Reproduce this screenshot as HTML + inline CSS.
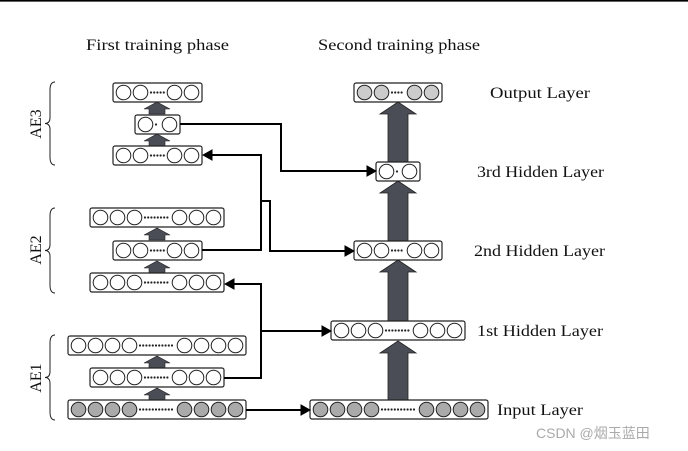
<!DOCTYPE html>
<html><head><meta charset="utf-8"><style>
html,body{margin:0;padding:0;background:#fff;}
svg{display:block;}
text{font-family:"Liberation Serif",serif;font-size:16px;fill:#111;}
</style></head><body>
<svg id="s" width="688" height="451" viewBox="0 0 688 451" xmlns="http://www.w3.org/2000/svg">
<rect x="0" y="0" width="688" height="451" fill="#fff"/>
<line x1="0" y1="0.8" x2="688" y2="0.8" stroke="#000" stroke-width="1.6"/>
<text x="86" y="50" textLength="143" lengthAdjust="spacingAndGlyphs">First training phase</text>
<text x="318" y="50" textLength="162" lengthAdjust="spacingAndGlyphs">Second training phase</text>
<text x="490" y="98" textLength="100" lengthAdjust="spacingAndGlyphs">Output Layer</text>
<text x="477" y="177" textLength="127" lengthAdjust="spacingAndGlyphs">3rd Hidden Layer</text>
<text x="474" y="256" textLength="131" lengthAdjust="spacingAndGlyphs">2nd Hidden Layer</text>
<text x="477" y="336" textLength="126" lengthAdjust="spacingAndGlyphs">1st Hidden Layer</text>
<text x="497" y="415" textLength="86" lengthAdjust="spacingAndGlyphs">Input Layer</text>
<text transform="translate(41,124) rotate(-90)" text-anchor="middle">AE3</text>
<text transform="translate(41,250) rotate(-90)" text-anchor="middle">AE2</text>
<text transform="translate(41,378) rotate(-90)" text-anchor="middle">AE1</text>
<text x="536" y="438" style="font-family:'Liberation Sans','Noto Sans CJK SC',sans-serif;font-size:14px;fill:#aaa">CSDN @烟玉蓝田</text>
<g id="g" fill="none" stroke="#000"></g>
</svg>
<script>
var g=document.getElementById('g'),h='';
function box(x,y,n,w,fill){
 var hgt=19;h+='<rect x="'+x+'" y="'+y+'" width="'+w+'" height="'+hgt+'" rx="2" fill="#fff" stroke="#222" stroke-width="1.2"/>';
 var cy=y+hgt/2;
 for(var i=0;i<n;i++){var cx=x+2+8.5+17*i;h+='<circle cx="'+cx+'" cy="'+cy+'" r="7.3" fill="'+fill+'" stroke="#222" stroke-width="1"/>';}
 for(var i=0;i<n;i++){var cx=x+w-2-8.5-17*i;h+='<circle cx="'+cx+'" cy="'+cy+'" r="7.3" fill="'+fill+'" stroke="#222" stroke-width="1"/>';}
 var d0=x+2+17*n+2,d1=x+w-2-17*n-2;
 for(var d=d0;d<=d1+0.1;d+=3.2){h+='<circle cx="'+d+'" cy="'+cy+'" r="1.1" fill="#222" stroke="none"/>';}
}
function sArr(cx,y){
 h+='<polygon points="'+(cx-13)+','+(y+7)+' '+cx+','+y+' '+(cx+13)+','+(y+7)+' '+(cx+8)+','+(y+7)+' '+(cx+8)+','+(y+12)+' '+(cx-8)+','+(y+12)+' '+(cx-8)+','+(y+7)+'" fill="#4a4d55" stroke="#222" stroke-width="0.6"/>';
}
function bArr(cx,y0,y1){
 h+='<polygon points="'+(cx-18)+','+(y0+12)+' '+cx+','+y0+' '+(cx+18)+','+(y0+12)+' '+(cx+10)+','+(y0+12)+' '+(cx+10)+','+y1+' '+(cx-10)+','+y1+' '+(cx-10)+','+(y0+12)+'" fill="#4a4d55" stroke="#222" stroke-width="0.8"/>';
}
box(113,83,2,89,'#fff');sArr(157,102);
box(135,115,1,45,'#fff');sArr(157,134);
box(113,146,2,89,'#fff');
box(90,208,3,134,'#fff');sArr(157,228);
box(113,241,2,89,'#fff');sArr(157,261);
box(90,273,3,134,'#fff');
box(68,336,4,178,'#fff');sArr(157,356);
box(90,368,3,134,'#fff');sArr(157,388);
box(68,400,4,178,'#aaa');
box(354,83,2,88,'#ccc');bArr(398,102,163);
box(376,162,1,44,'#fff');bArr(398,181,241);
box(354,241,2,88,'#fff');bArr(398,260,321);
box(331,321,3,134,'#fff');bArr(398,341,400);
box(310,400,4,178,'#aaa');
function ln(p){h+='<polyline points="'+p+'" fill="none" stroke="#000" stroke-width="2"/>';}
function ah(x,y,dir){h+='<polygon points="'+x+','+y+' '+(x-dir*9)+','+(y-5)+' '+(x-dir*9)+','+(y+5)+'" fill="#000"/>';}
ln('180,124 281,124 281,171 368,171');ah(376,171,1);
ln('202,250 261,250 261,155 211,155');ah(203,155,-1);
ln('261,201 270,201 270,251 346,251');ah(354,251,1);
ln('224,378 261,378 261,284 233,284');ah(225,284,-1);
ln('261,331 323,331');ah(331,331,1);
ln('246,410 302,410');ah(310,410,1);
function brace(y0,y1){var m=(y0+y1)/2,x=55;
 h+='<path d="M'+x+','+y0+' Q'+(x-5)+','+y0+' '+(x-5)+','+(y0+8)+' L'+(x-5)+','+(m-6)+' Q'+(x-5)+','+m+' '+(x-10)+','+m+' Q'+(x-5)+','+m+' '+(x-5)+','+(m+6)+' L'+(x-5)+','+(y1-8)+' Q'+(x-5)+','+y1+' '+x+','+y1+'" fill="none" stroke="#222" stroke-width="1"/>';}
brace(82,165);brace(208,293);brace(335,420);
g.innerHTML=h;
</script>
</body></html>
